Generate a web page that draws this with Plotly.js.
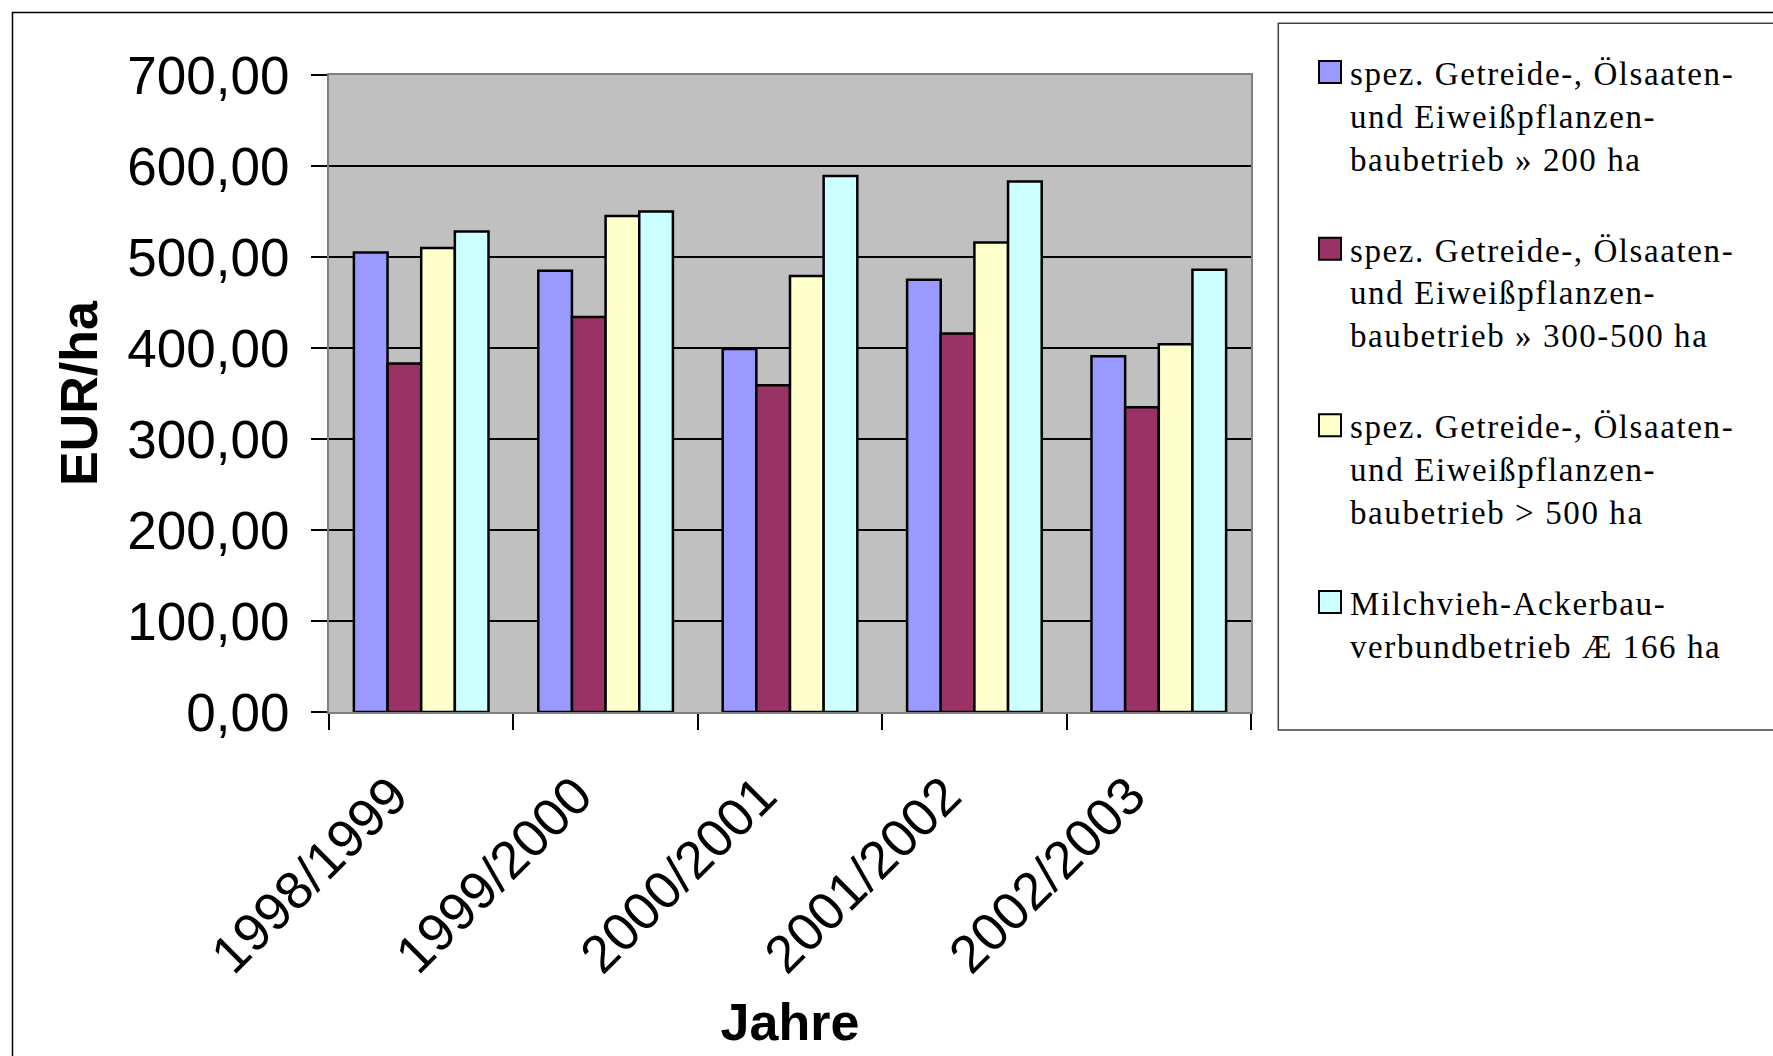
<!DOCTYPE html>
<html>
<head>
<meta charset="utf-8">
<script src="https://cdn.plot.ly/plotly-3.0.1.min.js"></script>
<style>
html,body{margin:0;padding:0;background:#fff;}
#chart{width:1773px;height:1056px;}
</style>
</head>
<body>
<div id="chart"></div>
<script>
// ---- data ----
const categories = ['1998/1999', '1999/2000', '2000/2001', '2001/2002', '2002/2003'];
const seriesNames = [
  'spez. Getreide-, Ölsaaten-<br>und Eiweißpflanzen-<br>baubetrieb » 200 ha',
  'spez. Getreide-, Ölsaaten-<br>und Eiweißpflanzen-<br>baubetrieb » 300-500 ha',
  'spez. Getreide-, Ölsaaten-<br>und Eiweißpflanzen-<br>baubetrieb > 500 ha',
  'Milchvieh-Ackerbau-<br>verbundbetrieb Æ 166 ha'
];
const values200 = [505, 485, 399, 475, 391];
const values300_500 = [383, 434, 359, 416, 335];
const values500 = [510, 545, 479, 516, 404];
const valuesMilch = [528, 550, 589, 583, 486];
const yTitle = 'EUR/ha';
const xTitle = 'Jahre';

const colors = ['#9999FF', '#993366', '#FFFFCC', '#CCFFFF'];
const allValues = [values200, values300_500, values500, valuesMilch];

const traces = allValues.map((v, i) => ({
  type: 'bar',
  x: categories,
  y: v,
  name: seriesNames[i],
  legendgroup: 'g' + i,
  marker: {color: colors[i], line: {color: '#000000', width: 2.5}},
  hoverinfo: 'y'
}));

// plot area in pixels: x 329..1251, y 75..712
const L = 329, R = 522, T = 75, B = 344;
const W = 1773 - L - R, H = 1056 - T - B;
const px = v => (v - L) / W;
const py = v => (1056 - B - v) / H;

const layout = {
  width: 1773,
  height: 1056,
  margin: {l: L, r: R, t: T, b: B, pad: 0},
  paper_bgcolor: '#FFFFFF',
  plot_bgcolor: '#C0C0C0',
  separators: ',.',
  barmode: 'group',
  bargap: 0.27,
  bargroupgap: 0,
  font: {family: 'Liberation Sans, Arial, sans-serif', color: '#000000'},
  showlegend: true,
  legend: {
    x: px(1310), y: py(44), xanchor: 'left', yanchor: 'top',
    bgcolor: 'rgba(0,0,0,0)', borderwidth: 0,
    font: {family: 'Liberation Serif, Times New Roman, serif', size: 33, color: '#000000'},
    valign: 'top',
    tracegroupgap: 45,
    traceorder: 'grouped',
    maxheight: 950
  },
  xaxis: {
    type: 'category',
    tickson: 'boundaries',
    tickvals: categories,
    ticktext: categories.map(c => c + '\u2002\u00a0'),
    ticks: 'outside', ticklen: 16, tickwidth: 1.5, tickcolor: '#000000',
    tickangle: -45,
    tickfont: {family: 'Liberation Sans, Arial, sans-serif', size: 53, color: '#000000'},
    showline: true, linecolor: '#808080', linewidth: 2, mirror: true,
    showgrid: false, zeroline: false,
    title: {text: xTitle, standoff: 21,
            font: {family: 'Liberation Sans, Arial, sans-serif', size: 52, weight: 'bold', color: '#000000'}}
  },
  yaxis: {
    range: [0, 700], dtick: 100, tick0: 0,
    tickformat: '.2f',
    ticks: 'outside', ticklen: 16, tickwidth: 1.5, tickcolor: '#000000',
    ticklabelstandoff: 11,
    tickfont: {family: 'Liberation Sans, Arial, sans-serif', size: 53, color: '#000000'},
    showline: true, linecolor: '#808080', linewidth: 2, mirror: true,
    showgrid: true, gridcolor: '#000000', gridwidth: 1.5,
    zeroline: false,
    title: {text: yTitle, standoff: 13,
            font: {family: 'Liberation Sans, Arial, sans-serif', size: 52, weight: 'bold', color: '#000000'}}
  },
  shapes: [
    // outer chart border
    {type: 'rect', xref: 'paper', yref: 'paper', layer: 'below',
     x0: px(12.5), x1: px(1800), y0: py(1080), y1: py(12.5),
     line: {color: '#000000', width: 1.5}, fillcolor: 'rgba(0,0,0,0)'},
    // legend box
    {type: 'rect', xref: 'paper', yref: 'paper', layer: 'below',
     x0: px(1278.3), x1: px(1800), y0: py(730), y1: py(23.3),
     line: {color: '#404040', width: 1.5}, fillcolor: 'rgba(0,0,0,0)'}
  ]
};

Plotly.newPlot('chart', traces, layout, {displayModeBar: false, responsive: false}).then(gd => {
  // larger legend swatches, slightly wider legend lettering (as in the original)
  gd.querySelectorAll('.legend .legendpoints path').forEach(p => {
    p.setAttribute('d', 'M11,11H-11V-11H11Z');
    p.style.strokeWidth = '2px';
  });
  gd.querySelectorAll('.legend text.legendtext').forEach(t => {
    t.style.letterSpacing = '1.6px';
  });
  gd.querySelectorAll('clipPath').forEach(cp => {
    if (cp.id && cp.id.indexOf('legend') === 0) {
      cp.querySelectorAll('rect').forEach(r => r.setAttribute('width', '700'));
    }
  });
});
</script>
</body>
</html>
